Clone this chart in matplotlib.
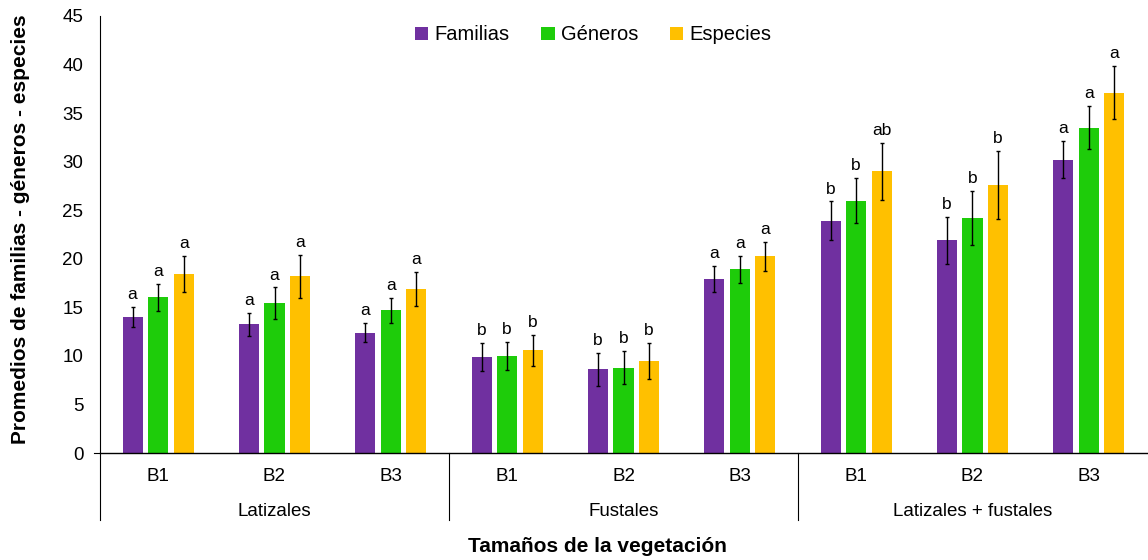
"""
Promedios de familias, géneros y especies por tamaño de vegetación.
"""

import numpy as np
import matplotlib
matplotlib.use("Agg")
import matplotlib.pyplot as plt
from matplotlib.lines import Line2D
from matplotlib.transforms import blended_transform_factory

plt.rcParams["font.family"] = ["Liberation Sans", "DejaVu Sans"]

# ------------------------------------------------------------
# Data
# ------------------------------------------------------------
groups = ["Latizales", "Fustales", "Latizales + fustales"]
blocks = ["B1", "B2", "B3"]
series = ["Familias", "Géneros", "Especies"]

familias = [14.0, 13.25, 12.4, 9.85, 8.6, 17.9, 23.9, 21.9, 30.2]
generos = [16.05, 15.45, 14.7, 10.0, 8.8, 18.9, 26.0, 24.2, 33.5]
especies = [18.45, 18.2, 16.9, 10.6, 9.45, 20.25, 29.0, 27.6, 37.1]

err_familias = [1.0, 1.2, 1.0, 1.45, 1.7, 1.35, 2.0, 2.4, 1.9]
err_generos = [1.4, 1.6, 1.27, 1.42, 1.7, 1.38, 2.33, 2.75, 2.2]
err_especies = [1.87, 2.2, 1.77, 1.6, 1.85, 1.48, 2.93, 3.5, 2.75]

let_familias = ["a", "a", "a", "b", "b", "a", "b", "b", "a"]
let_generos = ["a", "a", "a", "b", "b", "a", "b", "b", "a"]
let_especies = ["a", "a", "a", "b", "b", "a", "ab", "b", "a"]

colors = ["#7030A0", "#1ECC0A", "#FFC000"]

# ------------------------------------------------------------
# Figure
# ------------------------------------------------------------
W, H = 1148, 560
fig = plt.figure(figsize=(W / 100, H / 100), dpi=100)
ax_left, ax_bottom, ax_top, ax_right = 100, 453, 16, 1147
ax = fig.add_axes([ax_left / W, (H - ax_bottom) / H,
                   (ax_right - ax_left) / W, (ax_bottom - ax_top) / H])

n = len(familias)
x = np.arange(n)
width = 0.172
step = 0.22

values = [familias, generos, especies]
errors = [err_familias, err_generos, err_especies]
letters = [let_familias, let_generos, let_especies]

for i, (vals, errs, lets, col, name) in enumerate(zip(values, errors, letters, colors, series)):
    pos = x + (i - 1) * step
    ax.bar(pos, vals, width=width, color=col, label=name, zorder=2)
    ax.errorbar(pos, vals, yerr=errs, fmt="none", ecolor="black",
                elinewidth=1, capsize=1.6, capthick=1, zorder=3)
    for p, v, e, t in zip(pos, vals, errs, lets):
        ax.annotate(t, (p, v + e), xytext=(0, 3.5), textcoords="offset points",
                    ha="center", va="bottom", fontsize=12.5)

ax.set_xlim(-0.5, n - 0.5)
ax.set_ylim(0, 45)
ax.set_yticks(np.arange(0, 46, 5))
ax.tick_params(axis="y", length=0, labelsize=13.5, pad=12)
ax.set_xticks(x)
ax.set_xticklabels(blocks * 3, fontsize=13.5)
ax.tick_params(axis="x", length=0, pad=11)

for s in ["top", "right"]:
    ax.spines[s].set_visible(False)
ax.spines["left"].set_linewidth(0.8)
ax.spines["bottom"].set_linewidth(1.0)

# small tick at zero on the left
ax.add_line(Line2D([-6 / 1047, 0], [0, 0], transform=ax.transAxes,
                   color="black", linewidth=0.8, clip_on=False))

# group separators and labels
trans = blended_transform_factory(ax.transData, ax.transAxes)
depth = -(520 - 453) / 437
for b in [-0.5, 2.5, 5.5]:
    ax.add_line(Line2D([b, b], [0, depth], transform=trans,
                       color="black", linewidth=0.8, clip_on=False))
for g, name in enumerate(groups):
    ax.text(g * 3 + 1, -(512 - 453) / 437, name, transform=trans,
            ha="center", va="center", fontsize=13.5)

ax.set_xlabel("Tamaños de la vegetación", fontsize=15, fontweight="bold",
              va="center")
ax.xaxis.set_label_coords((597 - 100) / 1047, -(547 - 453) / 437)
ax.set_ylabel("Promedios de familias - géneros - especies", fontsize=15,
              fontweight="bold", va="center")
ax.yaxis.set_label_coords(-(100 - 21) / 1047, (453 - 229) / 437)

ax.legend(loc="upper center", bbox_to_anchor=(0.471, 1.02), ncol=3,
          frameon=False, fontsize=14.5, handlelength=0.65, handleheight=0.65,
          handletextpad=0.3, columnspacing=1.6)

fig.savefig("out.png", dpi=100)
